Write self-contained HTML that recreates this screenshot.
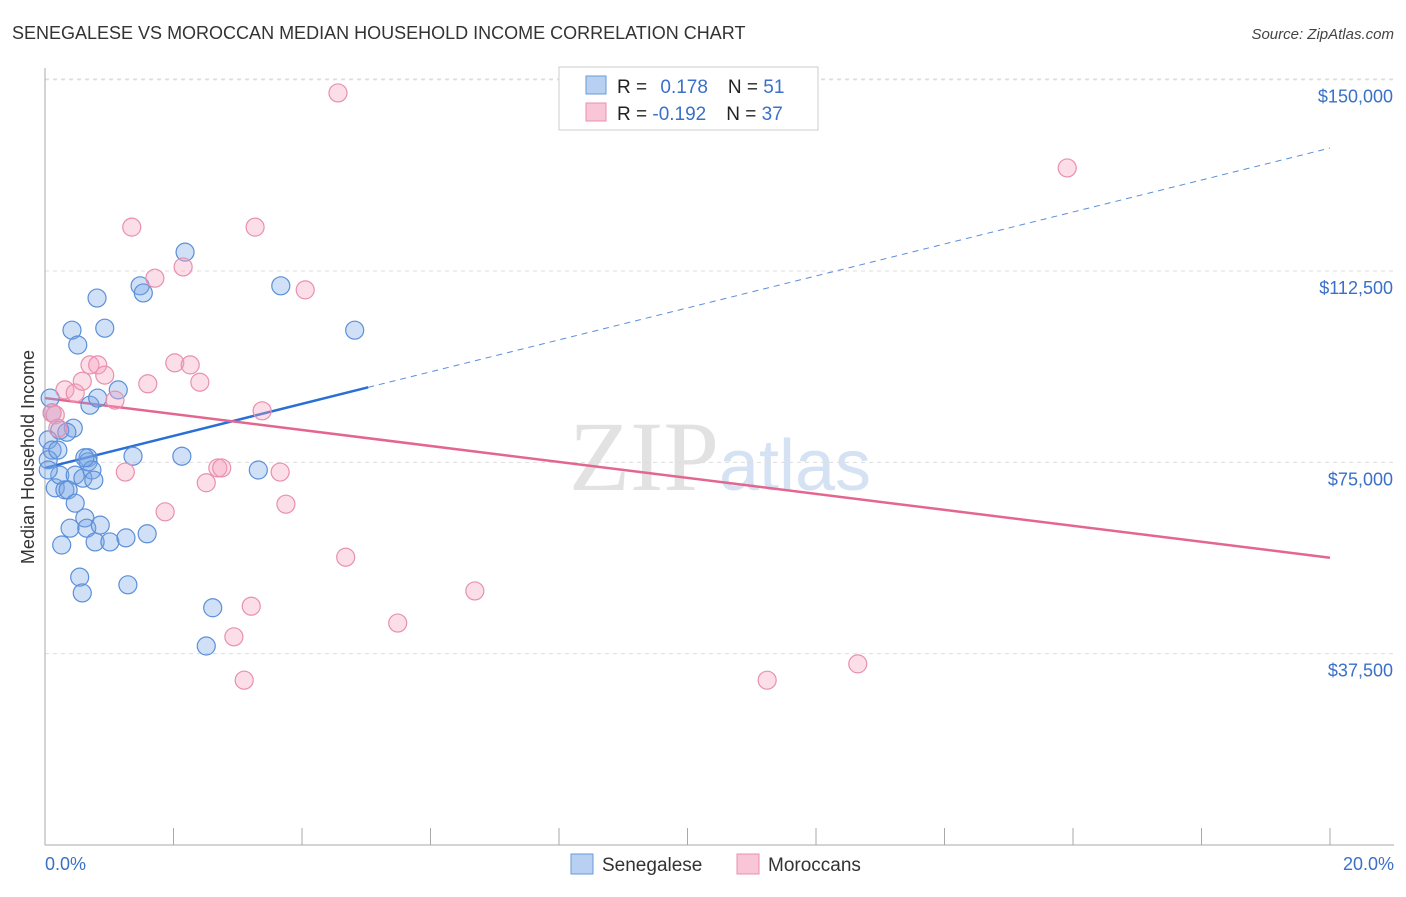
<!DOCTYPE html>
<html><head><meta charset="utf-8"><style>
body{margin:0;background:#fff;font-family:"Liberation Sans",sans-serif;}
</style></head><body>
<svg id="chart" width="1406" height="892" xmlns="http://www.w3.org/2000/svg" font-family="Liberation Sans, sans-serif">
<text x="12" y="39" font-size="18" fill="#333">SENEGALESE VS MOROCCAN MEDIAN HOUSEHOLD INCOME CORRELATION CHART</text>
<text x="1394" y="39" font-size="15" fill="#444" text-anchor="end" font-style="italic">Source: ZipAtlas.com</text>
<text x="720" y="490" font-size="100" fill="#e2e2e2" text-anchor="middle" font-family="Liberation Serif, serif">ZIP<tspan fill="#d4e2f3" font-family="Liberation Sans, sans-serif" font-size="72">atlas</tspan></text>
<g id="grid"></g>
<g id="axes"></g>
<g id="lines"></g>
<g id="pts"></g>
<text transform="translate(34,457) rotate(-90)" font-size="18" fill="#333" text-anchor="middle">Median Household Income</text>
<text x="45" y="870" font-size="18" fill="#3a70c8">0.0%</text>
<text x="1394" y="870" font-size="18" fill="#3a70c8" text-anchor="end">20.0%</text>
<g>
<rect x="559" y="67" width="259" height="63" fill="#fff" stroke="#ccc"/>
<rect x="586" y="76" width="20" height="18" fill="#b8d0f2" stroke="#6a9ad8"/>
<rect x="586" y="103" width="20" height="18" fill="#f8c6d6" stroke="#e890ae"/>
<text x="617" y="93" font-size="19" fill="#222">R = <tspan fill="#3a70c8" dx="8">0.178</tspan><tspan dx="20">N = </tspan><tspan fill="#3a70c8">51</tspan></text>
<text x="617" y="120" font-size="19" fill="#222">R = <tspan fill="#3a70c8">-0.192</tspan><tspan dx="20">N = </tspan><tspan fill="#3a70c8">37</tspan></text>
</g>
<g>
<rect x="571" y="854" width="22" height="20" fill="#b8d0f2" stroke="#6a9ad8"/>
<text x="602" y="871" font-size="19" fill="#333">Senegalese</text>
<rect x="737" y="854" width="22" height="20" fill="#f8c6d6" stroke="#e890ae"/>
<text x="768" y="871" font-size="19" fill="#333">Moroccans</text>
</g>
</svg>
<script>
const yTicks=[37500,75000,112500,150000];
const yTickLabels=["$37,500","$75,000","$112,500","$150,000"];
const xTicks=[0,2,4,6,8,10,12,14,16,18,20];
const blueX=[.08,.05,.11,.05,.16,.23,.26,.31,.36,.39,.42,.44,.47,.47,.51,.54,.58,.59,.62,.65,.67,.67,.70,.73,.76,.78,.81,.82,.86,.93,1.01,1.14,1.26,1.29,1.37,1.48,1.53,1.59,2.13,2.18,2.61,2.51,3.32,3.67,4.82,.23,.34,.20,.11,.05,.62];
const blueY=[87.6,79.4,77.4,75.5,70.0,72.5,58.8,69.6,69.6,62.1,100.9,81.7,72.5,67.0,98.0,52.5,49.4,71.9,64.1,62.1,75.9,75.1,86.2,73.5,71.5,59.4,107.2,87.6,62.7,101.3,59.4,89.2,60.2,51.0,76.2,109.6,108.2,61.0,76.2,116.2,46.5,39.0,73.5,109.6,100.9,81.3,80.9,77.4,84.7,73.5,75.9];
const pinkX=[.11,.16,.20,.31,.47,.58,.70,.82,.93,1.09,1.25,1.35,1.60,1.71,1.87,2.02,2.15,2.26,2.41,2.51,2.69,2.75,2.94,3.10,3.21,3.27,3.38,3.66,3.75,4.05,4.56,4.68,5.49,6.69,11.24,12.65,15.91];
const pinkY=[84.7,84.3,81.7,89.2,88.6,90.9,94.1,94.1,92.1,87.2,73.1,121.1,90.4,111.1,65.3,94.5,113.3,94.1,90.7,71.0,73.9,73.9,40.8,32.3,46.8,121.1,85.1,73.1,66.8,108.8,147.4,56.4,43.5,49.8,32.3,35.5,132.7];
const blueTrendX=[0,5.03,20];
const blueTrendY=[73.9,89.7,136.6];
const pinkTrendX=[0,20];
const pinkTrendY=[87.6,56.3];
const NS="http://www.w3.org/2000/svg";
const sx=v=>45+v*64.25;
const sy=v=>845-v/0.196;
function mk(tag,attrs,parent){const e=document.createElementNS(NS,tag);for(const k in attrs)e.setAttribute(k,attrs[k]);document.getElementById(parent).appendChild(e);return e;}
yTicks.forEach((t,i)=>{
 const l=mk('line',{x1:45,x2:1394,y1:sy(t/1000),y2:sy(t/1000),stroke:'#ddd','stroke-dasharray':'4,4'},'grid');
 
 
 const tx=mk('text',{x:1393,y:sy(t/1000)+23,'font-size':18,fill:'#3a70c8','text-anchor':'end'},'grid');
 tx.textContent=yTickLabels[i];
 
 
});
const tg=mk('line',{x1:45,x2:1394,y1:79,y2:79,stroke:'#ddd','stroke-dasharray':'4,4'},'grid');


const ya=mk('line',{x1:45,x2:45,y1:68,y2:845,stroke:'#aaa'},'axes');


const xa=mk('line',{x1:45,x2:1394,y1:845,y2:845,stroke:'#aaa'},'axes');


xTicks.forEach(t=>{
 const l=mk('line',{x1:sx(t),x2:sx(t),y1:828,y2:845,stroke:'#aaa'},'axes');
 
 
});
const b1=mk('line',{x1:sx(blueTrendX[0]),y1:sy(blueTrendY[0]),x2:sx(blueTrendX[1]),y2:sy(blueTrendY[1]),stroke:'#2a6fd6','stroke-width':2.5},'lines');


const b2=mk('line',{x1:sx(blueTrendX[1]),y1:sy(blueTrendY[1]),x2:sx(blueTrendX[2]),y2:sy(blueTrendY[2]),stroke:'#5b8fd9','stroke-width':1,'stroke-dasharray':'6,5'},'lines');


const p1=mk('line',{x1:sx(pinkTrendX[0]),y1:sy(pinkTrendY[0]),x2:sx(pinkTrendX[1]),y2:sy(pinkTrendY[1]),stroke:'#e4668f','stroke-width':2.5},'lines');


blueX.forEach((x,i)=>{
 const c=mk('circle',{cx:sx(x),cy:sy(blueY[i]),r:9,fill:'rgba(120,165,230,0.35)',stroke:'#5b8fd9','stroke-width':1.2},'pts');
 
 
});
pinkX.forEach((x,i)=>{
 const c=mk('circle',{cx:sx(x),cy:sy(pinkY[i]),r:9,fill:'rgba(245,160,190,0.35)',stroke:'#e890ae','stroke-width':1.2},'pts');
 
 
});
</script>
</body></html>
